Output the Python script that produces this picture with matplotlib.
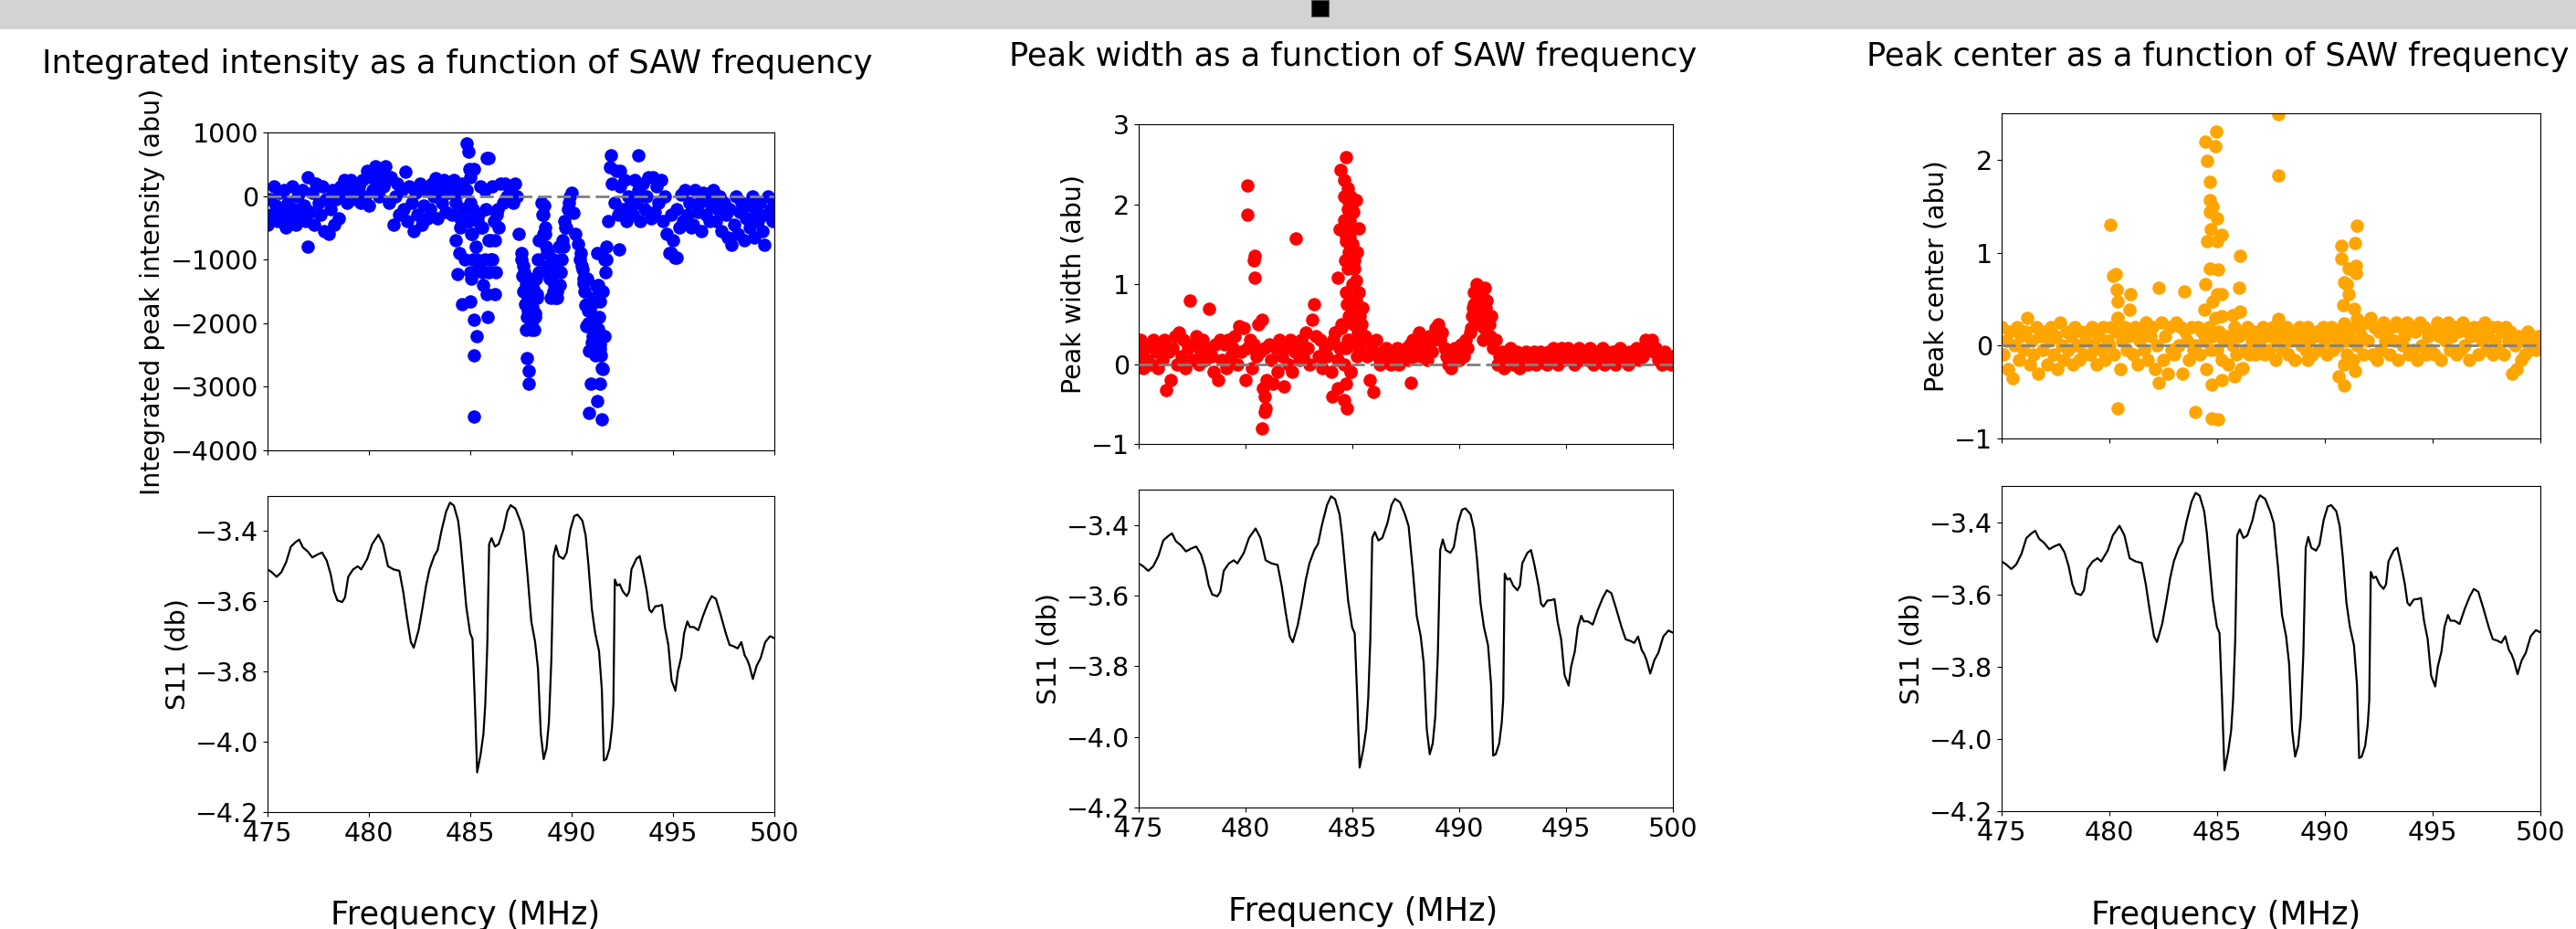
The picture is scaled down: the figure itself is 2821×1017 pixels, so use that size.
import matplotlib.pyplot as plt
from matplotlib.patches import Rectangle
import numpy as np

# S11 reflection of the SAW device (MHz, dB)
s11_freq = [475.00, 475.21, 475.45, 475.68, 475.92, 476.15, 476.39, 476.56, 476.74, 476.98,
            477.21, 477.45, 477.69, 477.92, 478.11, 478.28, 478.44, 478.68, 478.82, 478.98,
            479.22, 479.45, 479.62, 479.92, 480.16, 480.47, 480.70, 480.94, 481.22, 481.50,
            481.69, 481.88, 482.07, 482.21, 482.45, 482.63, 482.82, 482.99, 483.22, 483.39,
            483.58, 483.81, 484.00, 484.19, 484.40, 484.52, 484.66, 484.80, 484.99, 485.11,
            485.23, 485.34, 485.51, 485.65, 485.74, 485.84, 485.93, 486.05, 486.22, 486.40,
            486.64, 486.83, 486.99, 487.23, 487.46, 487.63, 487.82, 488.01, 488.20, 488.34,
            488.48, 488.62, 488.76, 488.88, 489.00, 489.11, 489.23, 489.37, 489.59, 489.75,
            489.94, 490.13, 490.29, 490.53, 490.69, 490.83, 491.00, 491.16, 491.35, 491.49,
            491.59, 491.71, 491.87, 491.99, 492.06, 492.13, 492.25, 492.37, 492.53, 492.72,
            492.84, 492.95, 493.19, 493.36, 493.52, 493.71, 493.83, 493.94, 494.13, 494.30,
            494.46, 494.60, 494.77, 494.93, 495.12, 495.24, 495.41, 495.55, 495.71, 495.83,
            496.02, 496.25, 496.49, 496.72, 496.91, 497.12, 497.36, 497.60, 497.79, 498.00,
            498.19, 498.37, 498.54, 498.66, 498.77, 498.94, 499.13, 499.32, 499.55, 499.79,
            500.00]
s11_db = [-3.509, -3.517, -3.530, -3.517, -3.488, -3.444, -3.431, -3.424, -3.446, -3.458,
          -3.475, -3.467, -3.461, -3.484, -3.522, -3.572, -3.597, -3.602, -3.589, -3.530,
          -3.509, -3.500, -3.509, -3.479, -3.437, -3.410, -3.437, -3.500, -3.509, -3.513,
          -3.572, -3.648, -3.716, -3.732, -3.682, -3.623, -3.555, -3.509, -3.471, -3.454,
          -3.399, -3.344, -3.319, -3.327, -3.370, -3.429, -3.522, -3.614, -3.690, -3.707,
          -3.893, -4.087, -4.036, -3.977, -3.893, -3.724, -3.437, -3.420, -3.444, -3.437,
          -3.395, -3.344, -3.326, -3.336, -3.370, -3.403, -3.522, -3.657, -3.716, -3.792,
          -3.977, -4.049, -4.019, -3.943, -3.766, -3.471, -3.441, -3.471, -3.479, -3.462,
          -3.395, -3.357, -3.353, -3.370, -3.412, -3.496, -3.623, -3.690, -3.741, -3.851,
          -4.053, -4.049, -4.019, -3.960, -3.893, -3.538, -3.555, -3.551, -3.572, -3.585,
          -3.572, -3.509, -3.479, -3.471, -3.513, -3.572, -3.623, -3.631, -3.614, -3.613,
          -3.610, -3.673, -3.724, -3.825, -3.855, -3.800, -3.758, -3.690, -3.657, -3.673,
          -3.673, -3.682, -3.640, -3.606, -3.585, -3.593, -3.640, -3.690, -3.724, -3.728,
          -3.734, -3.716, -3.754, -3.766, -3.783, -3.821, -3.783, -3.762, -3.716, -3.699,
          -3.705]

# fit results, one value per 0.1 MHz step of the sweep (475.0 ... 500.0)
fit_freq = np.linspace(475, 500, 251)

intensity = [
    -450, -50, -300, 150, -150, -400, 50, -250, 100, -500,          # 475
    -100, -350, 150, -200, -450, 0, -300, 100, -150, -400,          # 476
    300, -250, 50, -450, 200, -100, -300, 150, -550, -50,           # 477
    -600, -200, 100, -450, -50, -350, 150, 0, 250, -100,            # 478
    100, 250, -50, 200, 50, 150, -100, 250, 0, 400,                 # 479
    -150, 300, 100, 470, 200, 0, 350, 150, 470, 250,                # 480
    -100, 300, -450, 0, 200, -300, 100, -200, 380, -400,            # 481
    150, -100, -550, 50, -300, 200, -450, -150, 100, -350,          # 482
    -200, 200, 0, 280, -350, 100, -100, 250, -250, 50,              # 483
    150, -300, 250, -100, 50, -350, 200, -200, 100, -400,           # 484
    -100, -600, 430, -1000, -300, 150, -500, 100, 600, -700,        # 485
    -1000, 150, -700, -300, -500, 200, -100, 200, 0, 150,           # 486
    100, -100, 200, 0, -600, -900, -1100, -1300, -1500, -1750,      # 487
    -2100, -1450, -1900, -1600, -1200, -100, -300, -600, -900, -1200,  # 488
    -1300, -1500, -1100, -1600, -1400, -1000, -800, -500, -200, 0,     # 489
    50, -270, -600, -750, -1000, -1100, -1300, -1700, -2000, -1800,    # 490
    -2300, -1600, -2100, -1400, -2400, -2700, -2200, -1000, -400, 450, # 491
    200, -100, 400, -300, 150, -200, 250, -400, 0, -150,            # 492
    -300, 250, -100, 100, -400, 200, -200, 0, 300, -350,            # 493
    300, -250, 150, -100, 250, -400, 0, -600, -900, -300,           # 494
    -700, -970, -200, -500, 20, -400, 100, -300, -100, -500,        # 495
    -450, 100, -250, -100, -550, 50, -300, 0, -400, -150,           # 496
    100, -400, -200, 0, -550, -100, -300, -650, -200, -770,         # 497
    -450, 0, -600, -250, -100, -700, -350, -150, -500, 0,           # 498
    -650, -250, -400, -100, -550, -770, -300, 0, -200, -400,        # 499
    -100]
# extra fits inside the resonances (MHz, value)
intensity_extra_f = [484.30, 484.35, 484.58, 484.83, 484.91, 484.95, 484.99, 485.00, 485.02, 485.20,
                     485.31, 485.20, 485.18, 485.05, 485.12, 485.60, 485.70, 485.80, 485.85, 485.92,
                     486.10, 486.20, 487.80, 487.88, 487.90, 487.75, 488.15, 487.85, 488.00, 488.70,
                     488.75, 489.10, 489.20, 490.58, 490.66, 490.71, 490.85, 490.93, 490.85, 491.25,
                     491.39, 491.47, 491.52, 491.47, 491.39, 491.60, 491.25, 491.20, 491.30, 491.40,
                     491.95, 492.40, 492.35, 493.30, 495.20, 494.90, 477.00,
                     487.50, 487.55, 487.60, 487.65, 487.70, 487.75, 487.80, 487.85, 487.95, 488.05,
                     488.10, 488.20, 488.25, 488.30, 488.35, 488.40,
                     488.55, 488.60, 488.65, 488.80, 488.85, 488.90, 488.95, 489.05, 489.15, 489.25,
                     489.30, 489.35, 489.45, 489.55, 489.65, 489.75, 489.85,
                     490.45, 490.55, 490.65, 490.75, 490.80, 490.90, 491.00, 491.05, 491.10, 491.15,
                     491.20, 491.35, 491.45, 491.55, 491.65, 491.70,
                     484.45, 484.50, 484.65, 484.75, 484.85, 485.05, 485.15, 485.25, 485.35, 485.45,
                     485.55, 485.65, 485.75, 485.90, 486.00, 486.15, 486.25, 486.35]
intensity_extra_v = [-700, -1230, -1700, 830, 700, 430, -1660, -1200, 300, -1950,
                     -2200, -2500, -3470, -600, -1000, -1200, -1000, -1550, -1900, 600,
                     -1000, -1550, -2550, -2750, -2950, -2100, -2100, -1800, -2000, -500,
                     -800, -1000, -1600, -1370, -1710, -2040, -2430, -2950, -3410, -3220,
                     -2950, -3510, -2720, -2190, -1660, -990, -900, -1420, -2090, -2330,
                     640, 400, -840, 640, -970, -900, -800,
                     -1000, -1250, -1500, -1200, -1700, -1400, -1900, -1600, -1300, -1750,
                     -1500, -1850, -1300, -1550, -1000, -700,
                     -300, -600, -150, -1100, -900, -1300, -1600, -1200, -1400, -1100,
                     -1500, -800, -1200, -700, -400, -500, -100,
                     -900, -1150, -1500, -1300, -1800, -2000, -1700, -2200, -1900, -2500,
                     -2300, -1900, -2500, -1500, -1200, -800,
                     -900, -500, -200, -1000, -400, -1300, -200, -800, -400, -1100,
                     -500, -1400, -200, -1200, -700, -400, -1200, -200]

width = [
    0.1, 0.3, -0.05, 0.2, 0.05, 0.25, 0.0, 0.3, 0.15, -0.05,       # 475
    0.25, 0.05, 0.3, -0.33, 0.15, -0.2, 0.2, 0.35, 0.0, 0.4,       # 476
    0.1, 0.3, -0.05, 0.2, 0.79, 0.05, 0.25, 0.35, 0.0, 0.15,       # 477
    0.3, 0.05, 0.2, 0.69, 0.1, -0.1, 0.25, -0.2, 0.3, 0.05,        # 478
    0.25, -0.05, 0.3, 0.1, 0.2, 0.35, 0.0, 0.47, 0.15, 0.45,       # 479
    -0.2, 0.2, 0.3, -0.05, 0.25, 0.1, 0.5, 0.15, -0.3, 0.2,        # 480
    -0.2, 0.25, 0.05, -0.25, 0.2, -0.1, 0.3, 0.1, -0.28, 0.2,      # 481
    0.0, 0.3, -0.1, 0.15, 0.25, 0.05, 0.3, 0.1, 0.4, 0.2,          # 482
    0.0, 0.55, 0.75, 0.35, 0.1, 0.3, -0.05, 0.2, 0.1, 0.25,        # 483
    -0.1, 0.3, 0.4, 0.05, 0.2, 0.45, 0.0, 0.2, 0.3, -0.1,          # 484
    0.25, 0.3, 0.1, 0.2, 0.4, 0.3, 0.35, 0.1, -0.2, 0.2,           # 485
    -0.35, 0.3, 0.1, 0.0, 0.15, 0.05, 0.2, 0.1, 0.0, 0.15,         # 486
    0.05, 0.2, 0.0, 0.1, 0.15, 0.2, 0.05, 0.25, 0.3, 0.1,          # 487
    0.2, 0.4, 0.1, 0.3, 0.2, 0.05, 0.35, 0.15, 0.3, 0.45,          # 488
    0.5, 0.3, 0.4, 0.2, 0.1, 0.0, -0.05, 0.1, 0.2, 0.15,           # 489
    0.05, 0.25, 0.1, 0.3, 0.2, 0.4, 0.6, 0.75, 1.0, 0.55,          # 490
    0.9, 0.3, 0.95, 0.8, 0.5, 0.6, 0.2, 0.3, 0.0, 0.1,             # 491
    0.15, -0.05, 0.1, 0.05, 0.2, 0.0, 0.1, 0.15, -0.05, 0.1,       # 492
    0.05, 0.15, 0.0, 0.1, 0.05, 0.15, 0.0, 0.1, 0.15, 0.05,        # 493
    0.1, 0.0, 0.15, 0.05, 0.2, 0.1, 0.0, 0.15, 0.2, 0.05,          # 494
    0.1, 0.2, 0.05, 0.15, 0.0, 0.1, 0.2, 0.05, 0.15, 0.1,          # 495
    0.05, 0.2, 0.1, 0.0, 0.15, 0.05, 0.1, 0.2, 0.0, 0.15,          # 496
    0.1, 0.05, 0.15, 0.0, 0.1, 0.2, 0.05, 0.15, 0.1, 0.0,          # 497
    0.15, 0.05, 0.1, 0.2, 0.05, 0.15, 0.1, 0.3, 0.25, 0.2,         # 498
    0.3, 0.15, 0.2, 0.05, 0.1, 0.0, 0.15, 0.05, 0.1, 0.0,          # 499
    0.1]
width_extra_f = [480.10, 480.10, 480.39, 480.44, 480.44, 480.76, 480.76, 480.96, 480.88, 480.88,
                 482.35, 484.39, 484.31, 484.44, 484.61, 484.61, 484.68, 484.68, 484.80, 484.80,
                 484.80, 484.93, 484.93, 485.05, 485.05, 485.17, 485.17, 485.29, 485.29, 484.75,
                 484.75, 484.85, 484.85, 484.93, 484.68, 484.07, 484.61, 484.31, 485.49, 485.42,
                 484.19, 485.05, 485.17, 485.29, 487.75, 484.72, 484.88, 485.00, 485.10,
                 484.60, 484.65, 484.70, 484.75, 484.78, 484.82, 484.87, 484.90, 484.95, 485.00,
                 485.08, 485.12, 485.20, 485.25, 485.35, 484.55, 484.50,
                 490.55, 490.65, 490.70, 490.75, 490.85, 490.95, 491.05, 491.15, 491.25, 491.35,
                 491.45]
width_extra_v = [2.23, 1.87, 1.30, 1.35, 1.08, 0.55, -0.80, -0.55, -0.40, -0.60,
                 1.57, 1.69, 1.08, 2.43, 2.30, 2.10, 2.59, 1.54, 1.94, 1.20,
                 2.05, 1.30, 2.10, 1.90, 0.50, 2.05, 1.05, 1.70, 0.90, 0.75,
                 -0.55, 0.30, 1.40, -0.10, -0.25, -0.40, -0.45, -0.30, 0.70, 0.50,
                 0.40, 0.60, 0.80, 0.60, -0.23, 1.60, 1.80, 1.00, 1.20,
                 1.80, 1.30, 0.90, 1.70, 2.20, 0.60, 1.60, 2.00, 0.80, 1.50,
                 1.30, 0.70, 1.40, 0.40, 0.60, 0.20, 0.50,
                 0.45, 0.70, 0.90, 0.50, 0.80, 0.65, 0.85, 0.45, 0.70, 0.55,
                 0.35]

center = [
    0.2, -0.1, 0.05, -0.25, 0.15, -0.35, 0.0, 0.2, -0.15, 0.1,     # 475
    -0.05, 0.15, 0.3, -0.2, 0.05, -0.1, 0.2, -0.3, 0.1, -0.05,     # 476
    0.15, -0.2, 0.05, 0.2, -0.1, 0.1, -0.25, 0.25, 0.0, -0.15,     # 477
    0.15, -0.05, 0.1, -0.2, 0.2, 0.0, -0.15, 0.15, -0.1, 0.05,     # 478
    0.15, -0.1, 0.2, 0.0, -0.2, 0.1, -0.05, 0.2, -0.15, 0.05,      # 479
    0.0, 0.2, -0.1, 0.15, 0.3, -0.25, 0.05, 0.2, -0.05, 0.1,       # 480
    0.15, -0.1, 0.2, -0.2, 0.05, 0.15, -0.05, 0.25, -0.15, 0.1,    # 481
    0.2, -0.25, 0.0, -0.4, 0.25, -0.15, 0.1, -0.3, 0.2, -0.05,     # 482
    -0.1, 0.25, 0.0, 0.2, -0.3, 0.15, 0.05, -0.15, 0.2, -0.05,     # 483
    0.0, 0.2, -0.1, 0.15, 0.05, -0.25, 0.2, -0.05, 0.1, 0.3,       # 484
    -0.05, 0.15, -0.15, 0.05, 0.1, -0.2, 0.1, 0.0, 0.2, -0.1,      # 485
    0.1, -0.25, 0.15, -0.05, 0.2, -0.1, 0.05, 0.15, -0.1, 0.0,     # 486
    0.05, 0.2, -0.1, 0.15, -0.05, 0.1, 0.2, -0.15, 0.05, 0.15,     # 487
    -0.05, 0.1, 0.2, -0.1, 0.05, 0.15, -0.15, 0.1, 0.2, 0.0,       # 488
    0.15, -0.05, 0.2, 0.05, -0.1, 0.1, 0.15, -0.05, 0.1, 0.2,      # 489
    0.05, -0.1, 0.15, 0.2, -0.05, 0.1, 0.0, 0.15, 0.2, 0.05,       # 490
    -0.1, 0.15, 0.05, -0.15, 0.2, 0.0, 0.2, 0.1, -0.1, 0.25,       # 491
    0.05, 0.3, -0.1, 0.2, -0.15, 0.15, -0.05, 0.25, 0.05, 0.1,     # 492
    -0.1, 0.2, 0.05, 0.25, -0.15, 0.2, 0.0, 0.1, 0.25, -0.1,       # 493
    0.2, -0.05, 0.15, -0.15, 0.25, 0.0, 0.2, -0.1, 0.1, -0.05,     # 494
    0.15, -0.1, 0.25, 0.1, -0.15, 0.2, 0.05, 0.25, -0.05, 0.1,     # 495
    0.2, -0.1, 0.15, -0.05, 0.25, 0.0, 0.15, -0.15, 0.1, 0.2,      # 496
    0.15, -0.1, 0.2, 0.05, 0.25, -0.05, 0.1, 0.2, -0.1, 0.05,      # 497
    0.2, -0.05, 0.15, -0.1, 0.2, 0.05, 0.15, -0.3, 0.0, -0.25,     # 498
    0.1, -0.15, 0.05, -0.1, 0.15, -0.05, 0.1, 0.05, -0.05, 0.1,    # 499
    0.05]
center_extra_f = [480.04, 480.16, 480.28, 480.33, 480.40, 480.40, 480.40, 480.98, 480.94, 482.28,
                  483.48, 484.47, 484.47, 484.94, 484.92, 484.52, 484.52, 484.64, 484.64, 484.64,
                  484.64, 484.80, 484.80, 484.71, 484.99, 484.99, 484.99, 485.23, 485.23, 485.23,
                  485.23, 485.04, 485.04, 486.05, 486.05, 486.00, 484.40, 485.70, 484.75, 484.75,
                  484.00, 485.82, 486.17, 487.82, 487.82, 487.82, 489.18, 490.76, 490.76, 491.47,
                  491.40, 491.40, 491.42, 491.42, 491.12, 491.12, 490.88, 490.88, 490.88, 490.88,
                  491.00, 490.83, 491.35, 491.47, 490.65]
center_extra_v = [1.30, 0.75, 0.77, 0.60, 0.47, 0.30, -0.68, 0.55, 0.39, 0.62,
                  0.58, 2.20, 0.66, 2.30, 2.15, 1.99, 1.12, 1.76, 1.57, 1.44,
                  0.83, 1.50, 0.47, 1.25, 1.37, 1.12, 0.55, 1.19, 0.55, 0.32,
                  -0.37, 0.82, -0.79, 0.97, 0.37, 0.62, 0.39, 0.33, -0.42, -0.78,
                  -0.71, -0.33, -0.24, 2.49, 1.83, 0.29, -0.15, 1.07, 0.94, 1.29,
                  1.10, -0.27, 0.86, 0.78, 0.83, 0.55, 0.68, 0.24, -0.43, -0.20,
                  0.66, 0.44, 0.40, 0.29, -0.33]

titles = ['Integrated intensity as a function of SAW frequency',
          'Peak width as a function of SAW frequency',
          'Peak center as a function of SAW frequency']
ylabels = ['Integrated peak intensity (abu)', 'Peak width (abu)', 'Peak center (abu)']

W, H = 2821, 1017
plt.rcParams['font.family'] = 'DejaVu Sans'
plt.rcParams['font.size'] = 20.5


def px_rect(x0, y0, x1, y1):
    # pixel box (top-left origin) -> figure fraction rect
    return [x0 / W, 1 - y1 / H, (x1 - x0) / W, (y1 - y0) / H]


def draw_column(fig, top_box, bot_box, vals, ex_f, ex_v, color, ylim, yticks,
                ylabel, title, title_x, title_y, xlab_x, xlab_y):
    ax = fig.add_axes(px_rect(*top_box))
    ax.scatter(fit_freq, vals, s=110, color=color, linewidths=0, zorder=2)
    ax.scatter(ex_f, ex_v, s=110, color=color, linewidths=0, zorder=2)
    ax.axhline(0, color='gray', lw=2, ls=(0, (5.4, 2.2)), zorder=3)
    ax.set_xlim(475, 500)
    ax.set_ylim(*ylim)
    ax.set_yticks(yticks)
    ax.set_xticks([475, 480, 485, 490, 495, 500])
    ax.set_xticklabels([])
    ax.set_ylabel(ylabel)

    ax2 = fig.add_axes(px_rect(*bot_box))
    ax2.plot(s11_freq, s11_db, color='black', lw=1.6)
    ax2.set_xlim(475, 500)
    ax2.set_ylim(-4.2, -3.3)
    ax2.set_yticks([-4.2, -4.0, -3.8, -3.6, -3.4])
    ax2.set_xticks([475, 480, 485, 490, 495, 500])
    ax2.set_ylabel('S11 (db)')

    fig.text(title_x / W, 1 - title_y / H, title, fontsize=25.3, ha='left', va='baseline')
    fig.text(xlab_x / W, 1 - xlab_y / H, 'Frequency (MHz)', fontsize=25.3,
             ha='center', va='baseline')


fig = plt.figure(figsize=(W / 100, H / 100), dpi=100)

# grey bar along the top edge
fig.patches.append(Rectangle((0, 1 - 32 / H), 1, 32 / H, transform=fig.transFigure,
                             facecolor='#d3d3d3', edgecolor='none', zorder=0))
fig.patches.append(Rectangle((1436 / W, 1 - 18 / H), 19 / W, 18 / H, transform=fig.transFigure,
                             facecolor='black', edgecolor='#555555', lw=0.8, zorder=1))

draw_column(fig, (293, 145, 848, 493), (293, 543, 848, 889), intensity,
            intensity_extra_f, intensity_extra_v, 'blue', (-4000, 1000),
            [-4000, -3000, -2000, -1000, 0, 1000], ylabels[0], titles[0], 46, 80, 510, 1012)
draw_column(fig, (1247, 136, 1832, 486), (1247, 536, 1832, 884), width,
            width_extra_f, width_extra_v, 'red', (-1, 3),
            [-1, 0, 1, 2, 3], ylabels[1], titles[1], 1105, 72, 1493, 1008)
draw_column(fig, (2192, 124, 2782, 480), (2192, 532, 2782, 888), center,
            center_extra_f, center_extra_v, 'orange', (-1, 2.5),
            [-1, 0, 1, 2], ylabels[2], titles[2], 2044, 72, 2438, 1012)

fig.savefig('out.png', dpi=100)
